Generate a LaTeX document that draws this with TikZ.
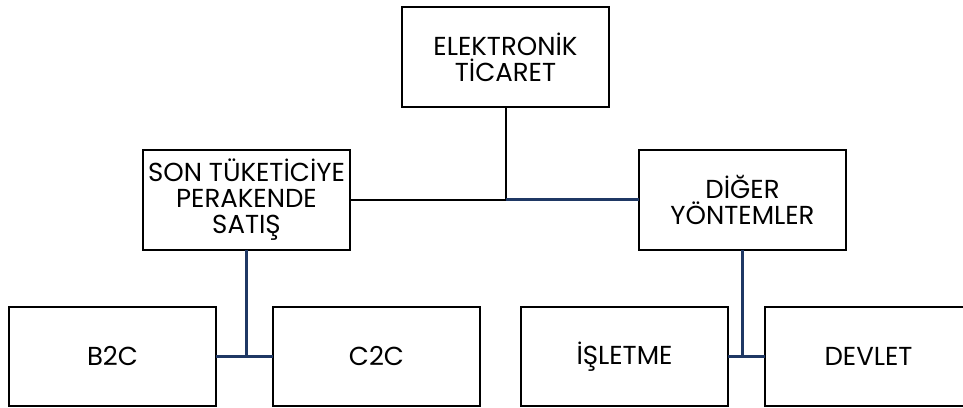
\documentclass[tikz,border=0pt]{standalone}
\usepackage{fontspec}
\setmainfont{Poppins}
\usetikzlibrary{positioning}
\definecolor{etnavy}{HTML}{1F3864}

\begin{document}
\begin{tikzpicture}[
  x=1pt, y=1pt,
  node distance=57pt and 57pt,
  kutu/.style={rectangle, draw=black, line width=2pt, fill=white,
               minimum width=207pt, minimum height=100pt, align=center,
               inner sep=0pt, outer sep=0pt,
               font=\fontsize{26}{26}\selectfont},
  altkutu/.style={kutu, minimum height=99pt},
  siyah/.style={draw=black, line width=2pt},
  mavi/.style={draw=etnavy, line width=2.6pt},
]
  \useasboundingbox (0,0) rectangle (963,-407);

  \node[kutu] (eticaret) at (505.5,-57) {ELEKTRONİK\\TİCARET};
  \node[kutu] (perakende) at (246.5,-199.5) {SON TÜKETİCİYE\\PERAKENDE\\SATIŞ};
  \node[kutu] (diger) at (742.5,-199.5) {DİĞER\\YÖNTEMLER};

  \node[altkutu] (btoc) at (112.5,-356.5) {B2C};
  \node[altkutu, right=57pt of btoc] (ctoc) {C2C};
  \node[altkutu, right=41pt of ctoc] (isletme) {İŞLETME};
  \node[altkutu, right=37pt of isletme] (devlet) {DEVLET};

  % ust baglanti
  \coordinate (kavsak) at (eticaret.south |- perakende.east);
  \draw[siyah] (eticaret.south) -- (kavsak);
  \draw[siyah] (perakende.east) -- (kavsak);
  \draw[mavi] (kavsak) -- (diger.west);

  % alt baglantilar
  \draw[mavi] (perakende.south) -- (perakende.south |- btoc.east);
  \draw[mavi] (btoc.east) -- (ctoc.west);
  \draw[mavi] (diger.south) -- (diger.south |- isletme.east);
  \draw[mavi] (isletme.east) -- (devlet.west);
\end{tikzpicture}
\end{document}
